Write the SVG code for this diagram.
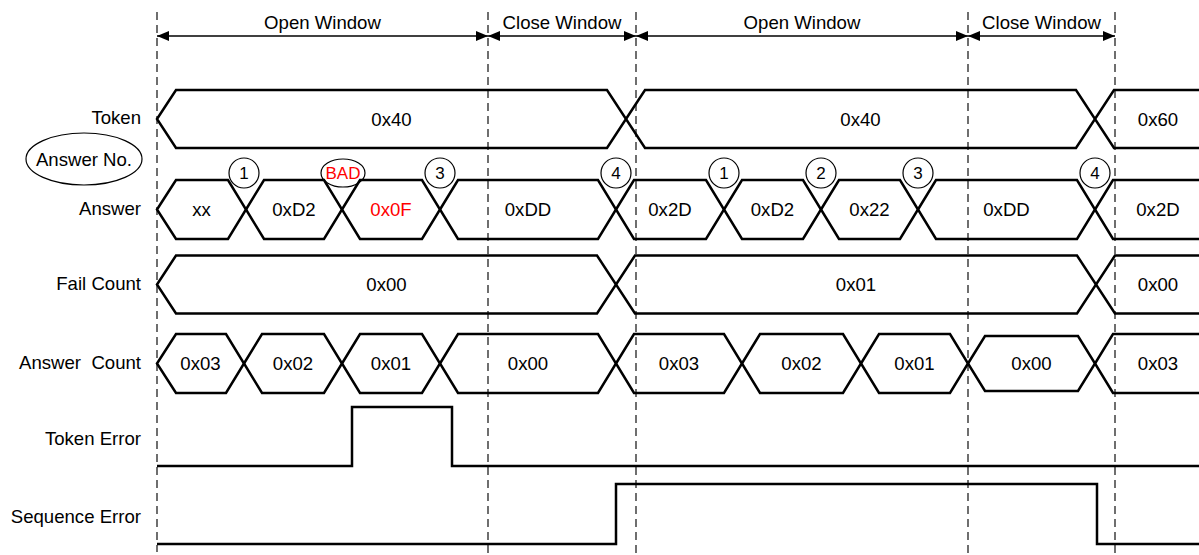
<svg xmlns="http://www.w3.org/2000/svg" width="1199" height="555" viewBox="0 0 1199 555">
<style>
text{font-family:"Liberation Sans",Arial,sans-serif;font-size:18.6px;fill:#000}
.lbl{text-anchor:end;white-space:pre}
.v{text-anchor:middle}
.red{fill:#ff0000}
.num{font-size:17px;text-anchor:middle}
.bad{font-size:17px;text-anchor:middle;fill:#ff0000}
.bus{fill:none;stroke:#000;stroke-width:2.5;stroke-linejoin:miter}
.sig{fill:none;stroke:#000;stroke-width:2.5}
.dash{stroke:#222;stroke-width:1.3;stroke-dasharray:8 5}
.dim{stroke:#000;stroke-width:1.5;marker-start:url(#arr);marker-end:url(#arr)}
.ring{fill:none;stroke:#000;stroke-width:1.2}
</style>
<defs>
<marker id="arr" viewBox="0 0 12 10" refX="12" refY="5" markerWidth="12" markerHeight="10" markerUnits="userSpaceOnUse" orient="auto-start-reverse">
<path d="M0,0 L12,5 L0,10 z" fill="#000"/>
</marker>
</defs>
<rect width="1199" height="555" fill="#fff"/>

<g id="grid">
<line class="dash" x1="157" y1="12" x2="157" y2="552"/>
<line class="dash" x1="488" y1="12" x2="488" y2="555"/>
<line class="dash" x1="636" y1="12" x2="636" y2="555"/>
<line class="dash" x1="968" y1="12" x2="968" y2="555"/>
<line class="dash" x1="1115" y1="12" x2="1115" y2="555"/>
</g>

<g id="connectors">
<line class="dim" x1="157" y1="36" x2="488" y2="36"/>
<line class="dim" x1="488" y1="36" x2="636" y2="36"/>
<line class="dim" x1="636" y1="36" x2="968" y2="36"/>
<line class="dim" x1="968" y1="36" x2="1115" y2="36"/>
</g>

<g id="windows">
<text class="v" x="322.5" y="29">Open Window</text>
<text class="v" x="562" y="29">Close Window</text>
<text class="v" x="802" y="29">Open Window</text>
<text class="v" x="1041.5" y="29">Close Window</text>
</g>

<g id="labels">
<text class="lbl" x="141" y="124">Token</text>
<text class="lbl" x="141" y="215">Answer</text>
<text class="lbl" x="141" y="290">Fail Count</text>
<text class="lbl" x="141" y="369">Answer  Count</text>
<text class="lbl" x="141" y="445">Token Error</text>
<text class="lbl" x="141" y="523">Sequence Error</text>
</g>

<g id="answer-no-legend">
<ellipse class="ring" cx="84" cy="159" rx="58" ry="26"/>
<text class="v" x="84" y="165.5">Answer No.</text>
</g>

<g id="answer-no">
<circle class="ring" cx="244" cy="173" r="15"/><text class="num" x="244" y="179">1</text>
<ellipse class="ring" cx="343" cy="173" rx="22" ry="14"/><text class="bad" x="343" y="179">BAD</text>
<circle class="ring" cx="440" cy="173" r="15"/><text class="num" x="440" y="179">3</text>
<circle class="ring" cx="616" cy="173" r="15"/><text class="num" x="616" y="179">4</text>
<circle class="ring" cx="724" cy="173" r="15"/><text class="num" x="724" y="179">1</text>
<circle class="ring" cx="821" cy="173" r="15"/><text class="num" x="821" y="179">2</text>
<circle class="ring" cx="918" cy="173" r="15"/><text class="num" x="918" y="179">3</text>
<circle class="ring" cx="1095" cy="173" r="15"/><text class="num" x="1095" y="179">4</text>
</g>

<g id="token">
<path class="bus" d="M157,119 L176,90 L607,90 L626,119 L607,148 L176,148 Z"/>
<path class="bus" d="M626,119 L645,90 L1076,90 L1095,119 L1076,148 L645,148 Z"/>
<path class="bus" d="M1210,90 L1114,90 L1095,119 L1114,148 L1210,148"/>
<text class="v" x="391.5" y="125.5">0x40</text>
<text class="v" x="860.5" y="125.5">0x40</text>
<text class="v" x="1158" y="125.5">0x60</text>
</g>

<g id="answer">
<path class="bus" d="M157,209.5 L176,180 L228,180 L246,209.5 L228,239 L176,239 Z"/>
<path class="bus" d="M246,209.5 L264,180 L324,180 L342,209.5 L324,239 L264,239 Z"/>
<path class="bus" d="M342,209.5 L360,180 L422,180 L440,209.5 L422,239 L360,239 Z"/>
<path class="bus" d="M440,209.5 L458,180 L598,180 L616,209.5 L598,239 L458,239 Z"/>
<path class="bus" d="M616,209.5 L634,180 L706,180 L724,209.5 L706,239 L634,239 Z"/>
<path class="bus" d="M724,209.5 L742,180 L803,180 L821,209.5 L803,239 L742,239 Z"/>
<path class="bus" d="M821,209.5 L839,180 L900,180 L918,209.5 L900,239 L839,239 Z"/>
<path class="bus" d="M918,209.5 L936,180 L1077,180 L1095,209.5 L1077,239 L936,239 Z"/>
<path class="bus" d="M1210,180 L1113,180 L1095,209.5 L1113,239 L1210,239"/>
<text class="v" x="201.5" y="216">xx</text>
<text class="v" x="294" y="216">0xD2</text>
<text class="v red" x="391" y="216">0x0F</text>
<text class="v" x="528" y="216">0xDD</text>
<text class="v" x="670" y="216">0x2D</text>
<text class="v" x="772.5" y="216">0xD2</text>
<text class="v" x="869.5" y="216">0x22</text>
<text class="v" x="1006.5" y="216">0xDD</text>
<text class="v" x="1158" y="216">0x2D</text>
</g>

<g id="fail-count">
<path class="bus" d="M157,284.5 L176,255.5 L597,255.5 L616,284.5 L597,313.5 L176,313.5 Z"/>
<path class="bus" d="M616,284.5 L635,255.5 L1077,255.5 L1096,284.5 L1077,313.5 L635,313.5 Z"/>
<path class="bus" d="M1210,255.5 L1115,255.5 L1096,284.5 L1115,313.5 L1210,313.5"/>
<text class="v" x="386.5" y="291">0x00</text>
<text class="v" x="856" y="291">0x01</text>
<text class="v" x="1158" y="291">0x00</text>
</g>

<g id="answer-count">
<path class="bus" d="M157,363.5 L176,334 L226,334 L244,363.5 L226,393 L176,393 Z"/>
<path class="bus" d="M244,363.5 L262,334 L324,334 L342,363.5 L324,393 L262,393 Z"/>
<path class="bus" d="M342,363.5 L360,334 L422,334 L440,363.5 L422,393 L360,393 Z"/>
<path class="bus" d="M440,363.5 L458,334 L598,334 L616,363.5 L598,393 L458,393 Z"/>
<path class="bus" d="M616,363.5 L634,334 L724,334 L742,363.5 L724,393 L634,393 Z"/>
<path class="bus" d="M742,363.5 L760,334 L843,334 L861,363.5 L843,393 L760,393 Z"/>
<path class="bus" d="M861,363.5 L879,334 L950,334 L968,363.5 L950,393 L879,393 Z"/>
<path class="bus" d="M968,363.5 L985,336 L1078,336 L1095,363.5 L1078,391 L985,391 Z"/>
<path class="bus" d="M1210,334 L1113,334 L1095,363.5 L1113,393 L1210,393"/>
<text class="v" x="200.5" y="370">0x03</text>
<text class="v" x="293" y="370">0x02</text>
<text class="v" x="391" y="370">0x01</text>
<text class="v" x="528" y="370">0x00</text>
<text class="v" x="679" y="370">0x03</text>
<text class="v" x="801.5" y="370">0x02</text>
<text class="v" x="914.5" y="370">0x01</text>
<text class="v" x="1031.5" y="370">0x00</text>
<text class="v" x="1158" y="370">0x03</text>
</g>

<g id="token-error">
<path class="sig" d="M157,466 L352,466 L352,407 L452,407 L452,466 L1199,466"/>
</g>

<g id="sequence-error">
<path class="sig" d="M157,544 L616,544 L616,484 L1097,484 L1097,544 L1199,544"/>
</g>
</svg>
